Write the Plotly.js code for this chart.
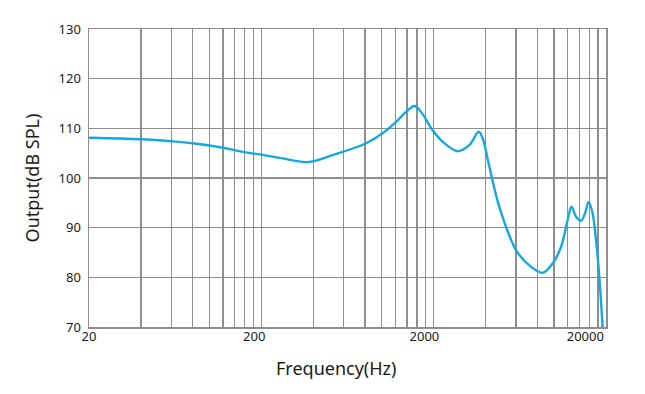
<!DOCTYPE html>
<html>
<head>
<meta charset="utf-8">
<script src="https://cdn.plot.ly/plotly-3.0.1.min.js"></script>
<style>html,body{margin:0;padding:0;background:#fff;}#chart{width:645px;height:394px;}</style>
</head>
<body>
<div id="chart"></div>
<script>
// Frequency response
const freqHz = [20, 40, 60, 80, 120, 160, 200, 260, 370, 517, 811, 1012, 1211, 1384, 1546, 1691, 1973, 2256, 2755, 3221, 3649, 3847, 4208, 4808, 6011, 7180, 8576, 9800, 10966, 11971, 12630, 13395, 14325, 15110, 15850, 16720, 17500, 18290, 19110];
const outputDb = [108.1, 107.8, 107.4, 107.0, 106.1, 105.2, 104.7, 104.0, 103.2, 104.6, 107.0, 109.0, 111.3, 113.3, 114.5, 113.3, 109.6, 107.3, 105.4, 106.6, 109.3, 108.0, 102.3, 94.2, 85.5, 82.4, 80.9, 82.8, 86.1, 91.5, 94.2, 92.2, 91.4, 92.9, 95.2, 92.9, 87.5, 80.1, 70.0];

// Grid lines (log decades, 2-step subdivisions)
const gridFreqs = [20, 40, 60, 80, 100, 120, 140, 160, 180, 200,
  400, 600, 800, 1000, 1200, 1400, 1600, 1800, 2000,
  4000, 6000, 8000, 10000, 12000, 14000, 16000, 18000, 20000];
const xTickLabels = ['20', '200', '2000', '20000'];
const yTickVals = [70, 80, 90, 100, 110, 120, 130];

// label anchor frequencies as placed in the original artwork
const xLabelAnchors = [20, 182, 1767, 15170];

const trace = {
  x: freqHz, y: outputDb, type: 'scatter', mode: 'lines',
  line: {color: '#16a6e0', width: 2.4, shape: 'spline', smoothing: 1.0},
  hoverinfo: 'skip', showlegend: false, cliponaxis: true
};
const dummy = {x: [20, 20000], y: [70, 70], xaxis: 'x2', type: 'scatter', mode: 'none', showlegend: false, hoverinfo: 'skip'};

const font = {family: '"Noto Sans", "Open Sans", sans-serif', color: '#1a1a1a'};
const layout = {
  width: 645, height: 394,
  margin: {l: 89, r: 39, t: 29, b: 67},
  paper_bgcolor: '#fff', plot_bgcolor: '#fff',
  font: font,
  xaxis: {
    type: 'log', range: [Math.log10(20), Math.log10(20000)],
    tickmode: 'array', tickvals: gridFreqs, showticklabels: false,
    showgrid: true, gridcolor: '#8e8e8e', gridwidth: 1.4,
    showline: true, linecolor: '#8e8e8e', linewidth: 1.5, mirror: true,
    ticks: '', zeroline: false, fixedrange: true
  },
  xaxis2: {
    type: 'log', range: [Math.log10(20), Math.log10(20000)], overlaying: 'x',
    tickmode: 'array', tickvals: xLabelAnchors, ticktext: xTickLabels,
    tickfont: {size: 13, family: font.family, color: '#1a1a1a'},
    showgrid: false, showline: false, zeroline: false, ticks: '', side: 'bottom',
    anchor: 'y', fixedrange: true
  },
  yaxis: {
    range: [70, 130], tickmode: 'array', tickvals: yTickVals,
    tickfont: {size: 13, family: font.family, color: '#1a1a1a'},
    showgrid: true, gridcolor: '#8e8e8e', gridwidth: 1.4,
    showline: true, linecolor: '#8e8e8e', linewidth: 1.5, mirror: true,
    ticks: '', zeroline: false, ticklabelstandoff: 4,
    title: {text: 'Output(dB SPL)', font: {size: 18, family: font.family, color: '#1a1a1a'}, standoff: 14},
    fixedrange: true
  },
  annotations: [{
    text: 'Frequency(Hz)', xref: 'paper', yref: 'paper', x: 0.478, y: -0.092,
    xanchor: 'center', yanchor: 'top', showarrow: false,
    font: {size: 18, family: font.family, color: '#1a1a1a'}
  }]
};
Plotly.newPlot('chart', [trace, dummy], layout, {staticPlot: true, displayModeBar: false});
</script>
</body>
</html>
